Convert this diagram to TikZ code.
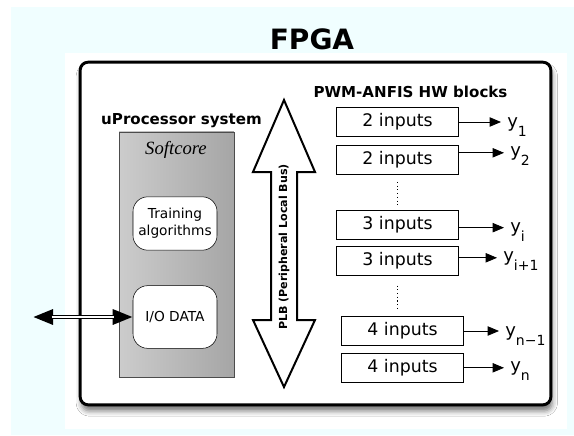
\documentclass[tikz,border=0pt]{standalone}
\usepackage{fontspec}
\setsansfont{DejaVu Sans}
\newfontfamily\softfont{Liberation Serif}
\usetikzlibrary{positioning,calc,arrows.meta,shadows.blur}
\definecolor{bgcyan}{RGB}{240,254,255}
\newcommand{\ylbl}[1]{y\raisebox{-7pt}{\fontsize{10.5}{11}\selectfont #1}}

\begin{document}
\begin{tikzpicture}[x=0.75pt, y=-0.75pt, font=\sffamily,
    board/.style = {draw, line width=2.2pt, rounded corners=6pt, fill=white,
        blur shadow={shadow xshift=1pt, shadow yshift=-4.5pt, shadow blur radius=4pt, shadow opacity=55}},
    core/.style = {draw=gray!60!black, line width=0.5pt, left color=gray!40, right color=gray!70},
    soft/.style = {draw, fill=white, rounded corners=11pt, minimum width=63pt, inner sep=0pt,
        align=center, font=\sffamily\fontsize{10.3}{12.5}\selectfont},
    blk/.style = {draw, line width=0.6pt, fill=white, minimum width=91pt, minimum height=22pt,
        inner sep=0pt, font=\sffamily\fontsize{13}{15}\selectfont},
    ttl/.style = {font=\sffamily\bfseries\fontsize{11.3}{13}\selectfont},
    outlbl/.style = {inner sep=0pt, anchor=base west, font=\sffamily\fontsize{13.5}{15}\selectfont},
    outarr/.style = {-{Triangle[length=8.5pt,width=7pt]}, line width=0.6pt, shorten >=4.5pt}]
    \useasboundingbox (0,0) rectangle (574,435);
    \fill[bgcyan] (11,7) rectangle (574,435);
    \fill[white] (65,53) rectangle (567,429);

    % FPGA board
    \node[font=\sffamily\bfseries\fontsize{21}{24}\selectfont] (fpga) at (312,39) {FPGA};
    \node[board, minimum width=353pt, minimum height=257pt] (brd) at (315.5,233.5) {};

    % processor side
    \node[ttl, anchor=base] (usys) at (181.5,124) {uProcessor system};
    \node[core, minimum width=86pt, minimum height=184pt] (cpu) at (176.5,254.5) {};
    \node[font=\softfont\itshape\fontsize{14}{16}\selectfont] (softlbl) at (176,150) {Softcore};
    \node[soft, minimum height=40pt] (train) at (175,223.5) {Training\\algorithms};
    \node[soft, minimum height=47pt] (iodata) at (175,317) {I/O DATA};
    \coordinate (ext) at (33,317);
    \draw[{Triangle[length=15pt,width=11pt]}-{Triangle[length=15pt,width=11pt]}, line width=3pt] (ext) -- (iodata.west);
    \draw[white, line width=1.2pt, shorten <=14pt, shorten >=14pt] (ext) -- (iodata.west);

    % bus
    \draw[line width=1.5pt, fill=white] (284,100) -- (315,172) -- (297,172) -- (297,320) -- (315,320)
        -- (284,387) -- (253,320) -- (271,320) -- (271,172) -- (253,172) -- cycle;
    \node[rotate=90, font=\sffamily\bfseries\fontsize{8.3}{9}\selectfont] (plb) at (284,247) {PLB (Peripheral Local Bus)};

    % HW blocks
    \node[ttl, anchor=base] (hwb) at (410.5,98) {PWM-ANFIS HW blocks};
    \node[blk] (in1) at (397.5,122) {2 inputs};
    \node[blk, below=6pt of in1] (in2) {2 inputs};
    \node[blk] (in3) at (397.5,225) {3 inputs};
    \node[blk, below=4.5pt of in3] (in4) {3 inputs};
    \node[blk] (in5) at (402.5,331) {4 inputs};
    \node[blk, below=5pt of in5] (in6) {4 inputs};
    \draw[dotted, line width=0.8pt, shorten <=5pt, shorten >=4pt] (in2.south) -- (in3.north);
    \draw[dotted, line width=0.8pt, shorten <=7pt, shorten >=5pt] (in4.south) -- (in4.south |- in5.north);

    % outputs
    \node[outlbl] (y1) at (507,127.5) {\ylbl{1}};
    \node[outlbl] (y2) at (510,156.5) {\ylbl{2}};
    \node[outlbl] (yi) at (510,232.5) {\ylbl{i}};
    \node[outlbl] (yi1) at (503,261.5) {\ylbl{i+1}};
    \node[outlbl] (yn1) at (505,336.5) {\ylbl{n−1}};
    \node[outlbl] (yn) at (510,371.5) {\ylbl{n}};
    \draw[outarr] (in1.east) -- (in1.east -| y1.west);
    \draw[outarr] ([yshift=5.5pt]in2.east) -- ([yshift=5.5pt]in2.east -| y2.west);
    \draw[outarr] ([yshift=-2pt]in3.east) -- ([yshift=-2pt]in3.east -| yi.west);
    \draw[outarr] ([yshift=2.5pt]in4.east) -- ([yshift=2.5pt]in4.east -| yi1.west);
    \draw[outarr] (in5.east) -- (in5.east -| yn1.west);
    \draw[outarr] (in6.east) -- (in6.east -| yn.west);
\end{tikzpicture}
\end{document}
